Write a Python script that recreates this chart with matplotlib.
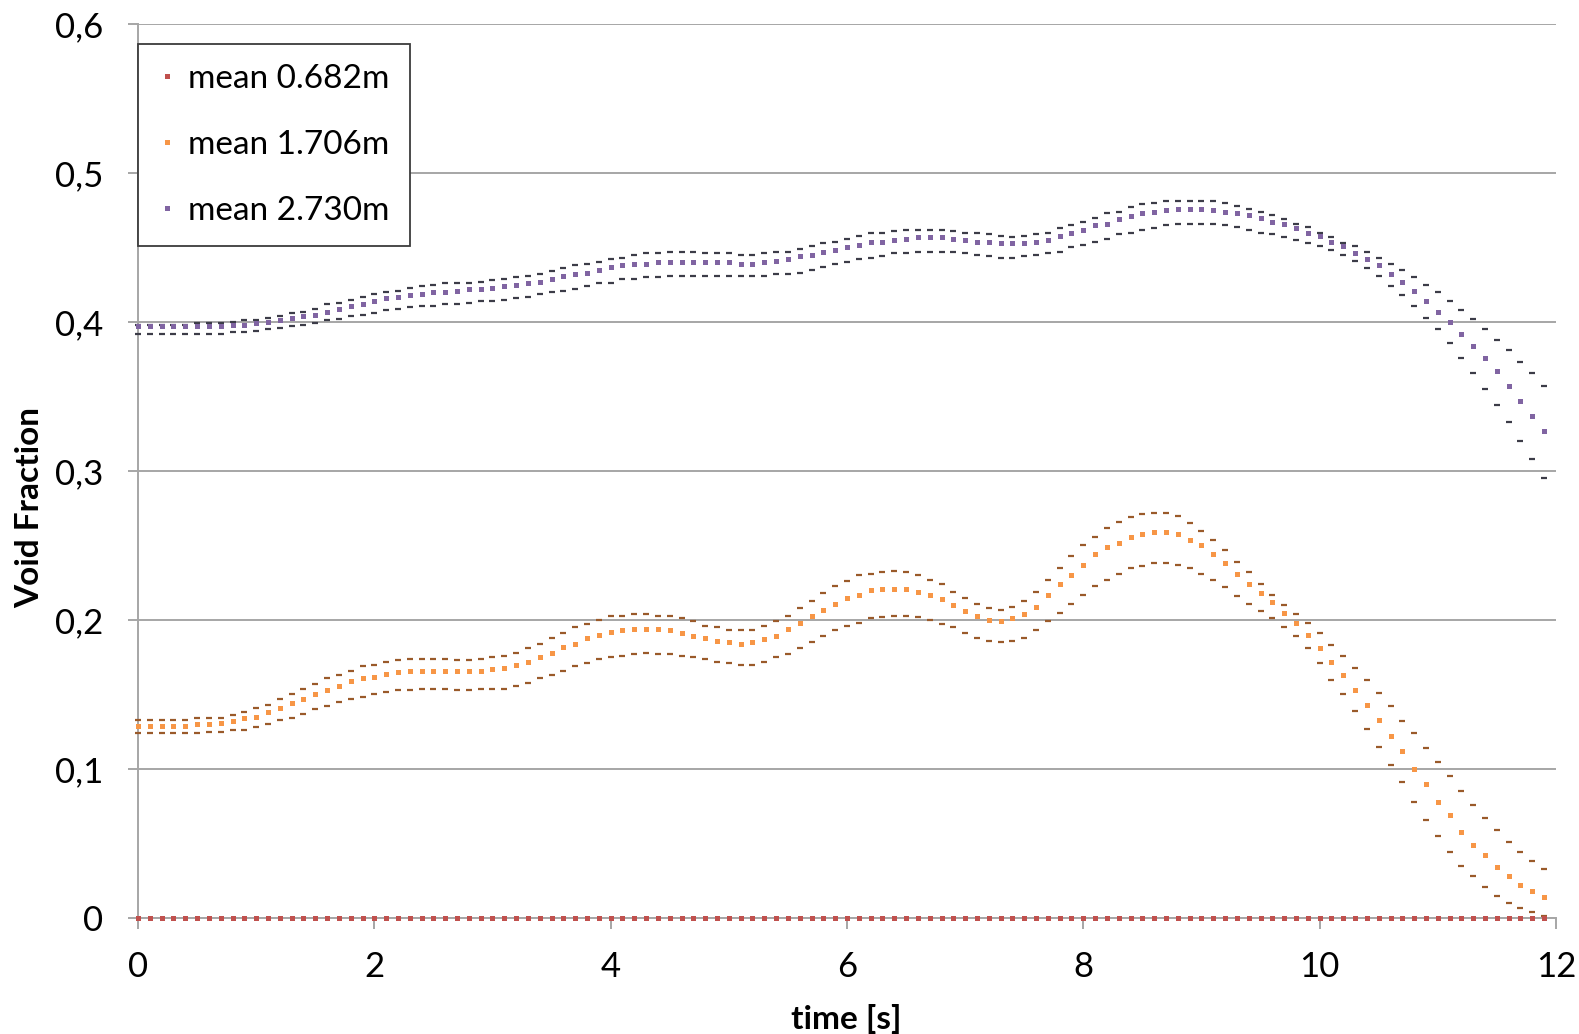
import numpy as np
import matplotlib
matplotlib.use("Agg")
from matplotlib import pyplot as plt
from matplotlib.ticker import FuncFormatter

plt.rcParams['font.family'] = ['Lato', 'DejaVu Sans']

# time axis: one sample every 0.1 s
time = np.arange(120) / 10.0

# mean 0.682m sits on zero the whole time
red_mean = [0.0] * 120

orange_mean = [
    0.129, 0.129, 0.129, 0.129, 0.129, 0.130, 0.130, 0.131, 0.132, 0.134,
    0.135, 0.138, 0.141, 0.144, 0.147, 0.150, 0.153, 0.156, 0.159, 0.161,
    0.162, 0.164, 0.165, 0.166, 0.166, 0.166, 0.166, 0.166, 0.166, 0.166,
    0.167, 0.168, 0.170, 0.172, 0.175, 0.178, 0.182, 0.184, 0.188, 0.190,
    0.192, 0.193, 0.194, 0.194, 0.194, 0.193, 0.191, 0.189, 0.188, 0.186,
    0.185, 0.184, 0.185, 0.187, 0.189, 0.194, 0.198, 0.203, 0.207, 0.211,
    0.215, 0.217, 0.220, 0.221, 0.221, 0.221, 0.219, 0.217, 0.214, 0.210,
    0.206, 0.203, 0.200, 0.199, 0.201, 0.204, 0.209, 0.217, 0.224, 0.230,
    0.237, 0.244, 0.249, 0.252, 0.256, 0.258, 0.259, 0.259, 0.258, 0.254,
    0.250, 0.244, 0.238, 0.231, 0.224, 0.218, 0.212, 0.205, 0.198, 0.190,
    0.181, 0.172, 0.163, 0.153, 0.143, 0.133, 0.122, 0.112, 0.100, 0.090,
    0.078, 0.069, 0.058, 0.049, 0.042, 0.034, 0.028, 0.022, 0.018, 0.014,
]
orange_upper = [
    0.133, 0.133, 0.133, 0.133, 0.133, 0.134, 0.134, 0.134, 0.136, 0.138,
    0.141, 0.143, 0.147, 0.150, 0.154, 0.157, 0.161, 0.163, 0.166, 0.169,
    0.170, 0.172, 0.173, 0.174, 0.174, 0.174, 0.174, 0.173, 0.173, 0.174,
    0.175, 0.176, 0.178, 0.181, 0.184, 0.188, 0.191, 0.195, 0.197, 0.200,
    0.203, 0.203, 0.204, 0.204, 0.203, 0.203, 0.201, 0.199, 0.196, 0.195,
    0.193, 0.193, 0.193, 0.196, 0.199, 0.203, 0.208, 0.213, 0.218, 0.223,
    0.226, 0.230, 0.231, 0.232, 0.233, 0.232, 0.230, 0.227, 0.224, 0.219,
    0.215, 0.211, 0.208, 0.207, 0.209, 0.213, 0.219, 0.227, 0.235, 0.243,
    0.250, 0.256, 0.262, 0.266, 0.269, 0.271, 0.272, 0.272, 0.270, 0.265,
    0.260, 0.254, 0.247, 0.239, 0.232, 0.224, 0.217, 0.210, 0.204, 0.198,
    0.191, 0.183, 0.176, 0.168, 0.160, 0.151, 0.142, 0.132, 0.124, 0.114,
    0.105, 0.095, 0.085, 0.076, 0.067, 0.059, 0.051, 0.044, 0.038, 0.033,
]
orange_lower = [
    0.124, 0.124, 0.124, 0.124, 0.124, 0.124, 0.125, 0.125, 0.126, 0.126,
    0.128, 0.130, 0.133, 0.134, 0.137, 0.140, 0.142, 0.145, 0.147, 0.148,
    0.150, 0.152, 0.153, 0.153, 0.154, 0.154, 0.154, 0.153, 0.153, 0.154,
    0.154, 0.154, 0.156, 0.158, 0.161, 0.163, 0.166, 0.169, 0.171, 0.174,
    0.175, 0.176, 0.177, 0.178, 0.177, 0.177, 0.176, 0.175, 0.174, 0.172,
    0.171, 0.170, 0.170, 0.172, 0.175, 0.177, 0.181, 0.185, 0.189, 0.193,
    0.196, 0.198, 0.201, 0.202, 0.203, 0.203, 0.202, 0.200, 0.197, 0.195,
    0.191, 0.188, 0.186, 0.185, 0.186, 0.188, 0.193, 0.199, 0.205, 0.211,
    0.217, 0.223, 0.227, 0.231, 0.235, 0.236, 0.238, 0.238, 0.237, 0.235,
    0.231, 0.227, 0.222, 0.216, 0.211, 0.206, 0.201, 0.195, 0.189, 0.181,
    0.171, 0.160, 0.150, 0.139, 0.127, 0.115, 0.103, 0.091, 0.078, 0.066,
    0.055, 0.044, 0.035, 0.028, 0.021, 0.015, 0.010, 0.007, 0.004, 0.001,
]

purple_mean = [
    0.397, 0.397, 0.397, 0.397, 0.397, 0.397, 0.397, 0.397, 0.398, 0.398,
    0.399, 0.400, 0.401, 0.403, 0.404, 0.405, 0.407, 0.409, 0.411, 0.412,
    0.414, 0.416, 0.417, 0.418, 0.419, 0.420, 0.420, 0.421, 0.422, 0.422,
    0.423, 0.424, 0.425, 0.426, 0.427, 0.429, 0.431, 0.432, 0.433, 0.435,
    0.437, 0.438, 0.439, 0.439, 0.440, 0.440, 0.440, 0.440, 0.440, 0.440,
    0.440, 0.439, 0.439, 0.440, 0.441, 0.442, 0.444, 0.445, 0.447, 0.448,
    0.450, 0.452, 0.454, 0.454, 0.455, 0.456, 0.457, 0.457, 0.457, 0.456,
    0.455, 0.454, 0.454, 0.453, 0.453, 0.453, 0.454, 0.455, 0.458, 0.460,
    0.462, 0.465, 0.466, 0.469, 0.471, 0.473, 0.474, 0.475, 0.476, 0.476,
    0.476, 0.475, 0.474, 0.473, 0.472, 0.470, 0.467, 0.466, 0.463, 0.460,
    0.458, 0.454, 0.451, 0.446, 0.442, 0.438, 0.432, 0.427, 0.421, 0.414,
    0.407, 0.400, 0.392, 0.384, 0.376, 0.367, 0.357, 0.347, 0.337, 0.327,
]
purple_upper = [
    0.398, 0.398, 0.398, 0.398, 0.398, 0.399, 0.399, 0.399, 0.400, 0.401,
    0.401, 0.403, 0.404, 0.406, 0.407, 0.409, 0.412, 0.413, 0.415, 0.417,
    0.419, 0.420, 0.421, 0.423, 0.424, 0.425, 0.426, 0.426, 0.426, 0.427,
    0.428, 0.429, 0.430, 0.431, 0.432, 0.434, 0.436, 0.438, 0.439, 0.440,
    0.442, 0.443, 0.445, 0.446, 0.446, 0.447, 0.447, 0.447, 0.446, 0.446,
    0.446, 0.445, 0.445, 0.446, 0.447, 0.447, 0.449, 0.451, 0.453, 0.454,
    0.456, 0.458, 0.460, 0.460, 0.461, 0.462, 0.462, 0.462, 0.462, 0.461,
    0.460, 0.460, 0.459, 0.458, 0.457, 0.458, 0.459, 0.460, 0.463, 0.465,
    0.467, 0.470, 0.473, 0.474, 0.477, 0.479, 0.480, 0.481, 0.481, 0.481,
    0.481, 0.481, 0.480, 0.478, 0.476, 0.474, 0.472, 0.469, 0.466, 0.464,
    0.460, 0.457, 0.453, 0.451, 0.447, 0.443, 0.439, 0.435, 0.430, 0.425,
    0.420, 0.414, 0.408, 0.402, 0.395, 0.388, 0.381, 0.373, 0.366, 0.357,
]
purple_lower = [
    0.392, 0.392, 0.392, 0.392, 0.392, 0.392, 0.392, 0.392, 0.393, 0.393,
    0.394, 0.395, 0.396, 0.397, 0.398, 0.399, 0.401, 0.402, 0.404, 0.405,
    0.406, 0.408, 0.409, 0.410, 0.411, 0.411, 0.412, 0.412, 0.413, 0.414,
    0.414, 0.415, 0.416, 0.417, 0.419, 0.420, 0.421, 0.422, 0.424, 0.426,
    0.426, 0.429, 0.429, 0.430, 0.430, 0.431, 0.431, 0.431, 0.431, 0.431,
    0.431, 0.431, 0.431, 0.431, 0.432, 0.432, 0.433, 0.435, 0.437, 0.439,
    0.440, 0.442, 0.443, 0.444, 0.446, 0.446, 0.447, 0.447, 0.447, 0.447,
    0.446, 0.445, 0.444, 0.443, 0.443, 0.444, 0.445, 0.446, 0.447, 0.450,
    0.452, 0.454, 0.456, 0.459, 0.460, 0.462, 0.463, 0.465, 0.466, 0.466,
    0.466, 0.466, 0.465, 0.464, 0.462, 0.460, 0.459, 0.457, 0.455, 0.453,
    0.451, 0.448, 0.445, 0.441, 0.436, 0.431, 0.424, 0.418, 0.411, 0.403,
    0.395, 0.386, 0.376, 0.366, 0.355, 0.344, 0.333, 0.320, 0.308, 0.295,
]

labels = ["mean 0.682m", "mean 1.706m", "mean 2.730m"]
colors = ["#C0504D", "#F79646", "#8064A2"]
band_colors = ["#9a5a2a", "#9a5a2a", "#3c3c48"]

GRID = "#a6a6a6"

fig = plt.figure(figsize=(15.79, 10.34), dpi=100)
ax = fig.add_axes([0.0874, 0.1122, 0.8980, 0.8646])

# bounds first, drawn as short dashes
for upper, lower, bc in [(orange_upper, orange_lower, band_colors[1]),
                         (purple_upper, purple_lower, band_colors[2])]:
    for band in (upper, lower):
        ax.plot(time, band, linestyle="none", marker="_", markersize=4.5,
                markeredgewidth=1.6, color=bc, clip_on=False, zorder=3)

handles = []
for series, lab, c in zip([red_mean, orange_mean, purple_mean], labels, colors):
    h, = ax.plot(time, series, linestyle="none", marker="s", markersize=3.6,
                 markeredgewidth=0, color=c, label=lab, clip_on=False, zorder=4)
    handles.append(h)

ax.set_xlim(0, 12)
ax.set_ylim(0, 0.6)
ax.set_xticks(np.arange(0, 13, 2))
ax.set_yticks(np.arange(0, 0.61, 0.1))


def comma_fmt(v, pos):
    if abs(v) < 1e-9:
        return "0"
    return ("%.1f" % v).replace(".", ",")


ax.yaxis.set_major_formatter(FuncFormatter(comma_fmt))

ax.yaxis.grid(True, color=GRID, linewidth=1.4)
ax.set_axisbelow(True)
for side in ["top", "right"]:
    ax.spines[side].set_visible(False)
for side in ["left", "bottom"]:
    ax.spines[side].set_color(GRID)
    ax.spines[side].set_linewidth(1.4)

ax.tick_params(axis="x", direction="out", length=8, width=1.4, color=GRID,
               labelsize=25, pad=16, labelcolor="black")
ax.tick_params(axis="y", direction="out", length=7, width=1.4, color=GRID,
               labelsize=25, pad=18, labelcolor="black")

fig.text(846 / 1579, 1 - 1019 / 1034, "time [s]", ha="center", va="center",
         fontsize=24, fontweight="bold")
fig.text(30 / 1579, 1 - 508 / 1034, "Void Fraction", ha="center", va="center",
         rotation=90, fontsize=24, fontweight="bold")

leg = ax.legend(handles=handles, loc="upper left", bbox_to_anchor=(0.0, 0.9776),
                borderaxespad=0, fontsize=24, frameon=True, fancybox=False,
                framealpha=1, edgecolor="#3c3c3c", handlelength=0.55,
                handletextpad=0.36, labelspacing=1.08, borderpad=0.6,
                markerscale=1.0)
leg.get_frame().set_linewidth(1.3)

fig.savefig("out.png", dpi=100)
